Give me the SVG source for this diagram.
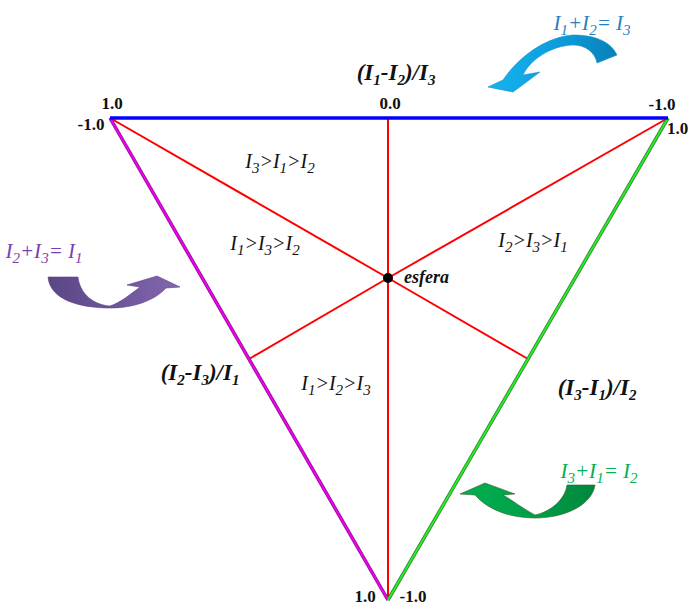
<svg xmlns="http://www.w3.org/2000/svg" width="691" height="606" viewBox="0 0 691 606">
<style>
.num{font-family:"Liberation Serif",serif;font-weight:bold;font-size:17px;fill:#111}
.ax{font-family:"Liberation Serif",serif;font-weight:bold;font-style:italic;font-size:23px;fill:#111}
.rg{font-family:"Liberation Serif",serif;font-style:italic;font-size:20px;fill:#111}
.eq{font-family:"Liberation Serif",serif;font-style:italic;font-size:21px}
.s{font-size:15px}
.red{stroke:#ff0000;stroke-width:2;fill:none}
</style>
<defs>
<linearGradient id="gb" x1="0" y1="0" x2="1" y2="0"><stop offset="0" stop-color="#14b4f0"/><stop offset="0.6" stop-color="#0c9ad8"/><stop offset="1" stop-color="#0a7fb8"/></linearGradient>
<linearGradient id="gp" x1="0" y1="0" x2="1" y2="0"><stop offset="0" stop-color="#5b4685"/><stop offset="0.5" stop-color="#6c559a"/><stop offset="1" stop-color="#8467ad"/></linearGradient>
<linearGradient id="gg" x1="0" y1="0" x2="1" y2="0"><stop offset="0" stop-color="#00b050"/><stop offset="0.55" stop-color="#009f48"/><stop offset="1" stop-color="#00873c"/></linearGradient>
</defs>
<rect width="691" height="606" fill="#fff"/>
<g id="connectors">
<line class="red" x1="388" y1="278" x2="110" y2="118"/>
<line class="red" x1="388" y1="278" x2="668" y2="118"/>
<line class="red" x1="388" y1="118" x2="388" y2="600"/>
<line class="red" x1="388" y1="278" x2="249" y2="359"/>
<line class="red" x1="388" y1="278" x2="528" y2="359"/>
<line x1="110" y1="118" x2="388" y2="600" stroke="#8a108a" stroke-width="3.5"/>
<line x1="110" y1="118" x2="388" y2="600" stroke="#ee00ee" stroke-width="2"/>
<line x1="668" y1="118" x2="388" y2="600" stroke="#3a7a3a" stroke-width="3.5"/>
<line x1="668" y1="118" x2="388" y2="600" stroke="#22ee22" stroke-width="2"/>
<line x1="110" y1="118" x2="668" y2="118" stroke="#0000ff" stroke-width="3.5"/>
</g>
<g id="center">
<circle cx="388" cy="278" r="5" fill="#000"/>
<text x="404" y="283" class="rg" style="font-weight:bold;font-size:18px">esfera</text>
</g>
<g id="labels-numbers">
<text x="112" y="109" class="num" text-anchor="middle">1.0</text>
<text x="91" y="130" class="num" text-anchor="middle">-1.0</text>
<text x="390" y="109" class="num" text-anchor="middle">0.0</text>
<text x="662" y="110" class="num" text-anchor="middle">-1.0</text>
<text x="667" y="134" class="num">1.0</text>
<text x="365" y="602" class="num" text-anchor="middle">1.0</text>
<text x="413" y="602" class="num" text-anchor="middle">-1.0</text>
</g>
<g id="axis-top"><text x="396" y="80" class="ax" text-anchor="middle">(I<tspan class="s" dy="5">1</tspan><tspan dy="-5">-I</tspan><tspan class="s" dy="5">2</tspan><tspan dy="-5">)/I</tspan><tspan class="s" dy="5">3</tspan></text></g>
<g id="axis-left"><text x="200" y="380" class="ax" text-anchor="middle">(I<tspan class="s" dy="5">2</tspan><tspan dy="-5">-I</tspan><tspan class="s" dy="5">3</tspan><tspan dy="-5">)/I</tspan><tspan class="s" dy="5">1</tspan></text></g>
<g id="axis-right"><text x="597" y="395" class="ax" text-anchor="middle">(I<tspan class="s" dy="5">3</tspan><tspan dy="-5">-I</tspan><tspan class="s" dy="5">1</tspan><tspan dy="-5">)/I</tspan><tspan class="s" dy="5">2</tspan></text></g>
<g id="region1"><text x="280" y="168" class="rg" text-anchor="middle">I<tspan class="s" dy="5">3</tspan><tspan dy="-5">&gt;I</tspan><tspan class="s" dy="5">1</tspan><tspan dy="-5">&gt;I</tspan><tspan class="s" dy="5">2</tspan></text></g>
<g id="region2"><text x="265" y="250" class="rg" text-anchor="middle">I<tspan class="s" dy="5">1</tspan><tspan dy="-5">&gt;I</tspan><tspan class="s" dy="5">3</tspan><tspan dy="-5">&gt;I</tspan><tspan class="s" dy="5">2</tspan></text></g>
<g id="region3"><text x="533" y="247" class="rg" text-anchor="middle">I<tspan class="s" dy="5">2</tspan><tspan dy="-5">&gt;I</tspan><tspan class="s" dy="5">3</tspan><tspan dy="-5">&gt;I</tspan><tspan class="s" dy="5">1</tspan></text></g>
<g id="region4"><text x="336" y="390" class="rg" text-anchor="middle">I<tspan class="s" dy="5">1</tspan><tspan dy="-5">&gt;I</tspan><tspan class="s" dy="5">2</tspan><tspan dy="-5">&gt;I</tspan><tspan class="s" dy="5">3</tspan></text></g>
<g id="eq-blue">
<path d="M617,55 C610,40 592,35 573,35 C547,37 520,55 503,80 L488,87 L513,92 L540,72 L523,75 C530,60 550,46 573,45 C585,45 595,52 597,63 Z" fill="url(#gb)" stroke="#1a8fc8" stroke-width="0.6"/>
<text x="592" y="30" class="eq" fill="#2a7ec4" text-anchor="middle">I<tspan class="s" dy="5">1</tspan><tspan dy="-5">+I</tspan><tspan class="s" dy="5">2</tspan><tspan dy="-5">= I</tspan><tspan class="s" dy="5">3</tspan></text>
</g>
<g id="eq-purple">
<path d="M48,277 L78,277 C80,295 95,305 110,306 C120,303 132,293 140,287 L127,285 L157,276 L180,287 L166,288 C155,300 135,308 110,308 C80,308 50,300 48,277 Z" fill="url(#gp)" stroke="#5a3f88" stroke-width="0.6"/>
<text x="44" y="258" class="eq" fill="#7a3fae" text-anchor="middle">I<tspan class="s" dy="5">2</tspan><tspan dy="-5">+I</tspan><tspan class="s" dy="5">3</tspan><tspan dy="-5">= I</tspan><tspan class="s" dy="5">1</tspan></text>
</g>
<g id="eq-green">
<path d="M595,485 L567,485 C565,500 550,512 535,515 C525,510 512,500 503,495 L515,494 L485,483 L460,494 L475,495 C488,510 510,518 535,518 C565,518 592,505 595,485 Z" fill="url(#gg)" stroke="#3a5a2a" stroke-width="0.6"/>
<text x="599" y="478" class="eq" fill="#00b050" text-anchor="middle">I<tspan class="s" dy="5">3</tspan><tspan dy="-5">+I</tspan><tspan class="s" dy="5">1</tspan><tspan dy="-5">= I</tspan><tspan class="s" dy="5">2</tspan></text>
</g>
</svg>
